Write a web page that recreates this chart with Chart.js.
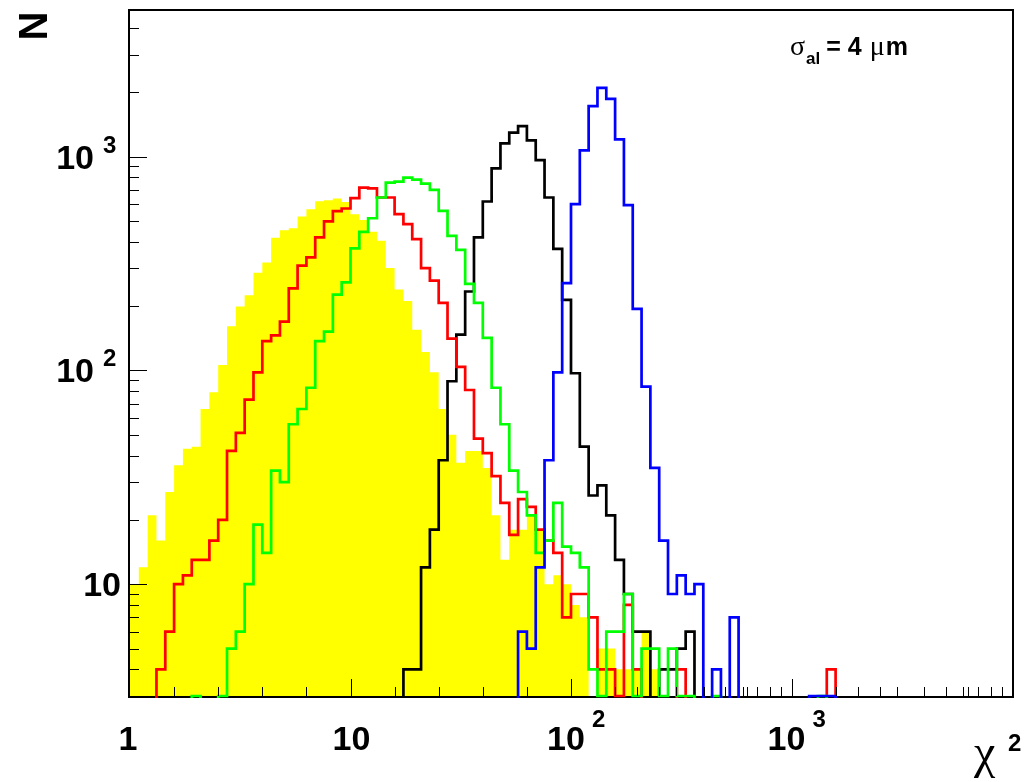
<!DOCTYPE html>
<html>
<head>
<meta charset="utf-8">
<script src="https://cdn.jsdelivr.net/npm/chart.js@4.4.1/dist/chart.umd.min.js"></script>
<style>html,body{margin:0;padding:0;background:#fff}canvas{display:block}</style>
</head>
<body>
<canvas id="c" width="1026" height="782"></canvas>
<script>
// ---- binning of the chi2 histograms: 25 log-bins per decade starting at chi2 = 1
const X_LOG_MIN = 0;
const BINS_PER_DECADE = 25;
const X_MIN = 1, X_MAX = 10000;
const Y_MIN = 3, Y_MAX = 4800;

// ---- bin contents (bins 0..80); 0 = empty / below axis
const yellowCounts = [
  10, 12, 21, 16, 27, 36, 43, 44, 66, 79,
  106, 161, 199, 225, 286, 320, 417, 453, 463, 525,
  568, 619, 626, 637, 614, 538, 505, 445, 404, 301,
  239, 211, 155, 122, 98, 66, 50, 37, 42, 42,
  35, 21, 13, 18, 18, 21, 18, 10, 11, 10,
  8, 7, 0, 5, 5, 4, 4, 4, 6, 4,
  0, 0, 0, 0, 0, 0, 0, 0, 0, 0,
  0, 0, 0, 0, 0, 0, 0, 0, 0, 0,
  0
];
const redCounts = [
  0, 0, 0, 4, 6, 10, 11, 13, 13, 16,
  20, 42, 51, 73, 98, 137, 146, 169, 242, 309,
  338, 419, 498, 556, 572, 639, 717, 710, 644, 644,
  538, 483, 411, 301, 263, 207, 141, 104, 81, 48,
  41, 32, 24, 17, 25, 23, 18, 16, 14, 7,
  9, 9, 7, 4, 4, 3, 8, 4, 0, 0,
  0, 0, 4, 0, 0, 0, 0, 0, 0, 0,
  0, 0, 0, 0, 0, 0, 0, 0, 0, 4,
  0
];
const greenCounts = [
  0, 0, 0, 0, 0, 0, 0, 3, 0, 0,
  3, 5, 6, 10, 19, 14, 34, 30, 56, 66,
  83, 137, 152, 226, 258, 372, 445, 515, 644, 756,
  764, 798, 780, 748, 699, 557, 426, 366, 254, 207,
  142, 83, 56, 34, 27, 21, 14, 16, 24, 15,
  14, 12, 4, 3, 6, 6, 9, 3, 5, 5,
  3, 5, 3, 3, 0, 0, 3, 0, 0, 0,
  0, 0, 0, 0, 0, 0, 0, 0, 3, 0,
  0
];
const blackCounts = [
  0, 0, 0, 0, 0, 0, 0, 0, 0, 0,
  0, 0, 0, 0, 0, 0, 0, 0, 0, 0,
  0, 0, 0, 0, 0, 0, 0, 0, 0, 0,
  0, 4, 4, 12, 18, 38, 89, 147, 234, 419,
  617, 881, 1153, 1294, 1389, 1191, 964, 644, 370, 214,
  97, 44, 26, 29, 21, 13, 9, 6, 6, 0,
  4, 4, 5, 6, 0, 0, 0, 0, 0, 0,
  0, 0, 0, 0, 0, 0, 0, 0, 0, 0,
  0
];
const blueCounts = [
  0, 0, 0, 0, 0, 0, 0, 0, 0, 0,
  0, 0, 0, 0, 0, 0, 0, 0, 0, 0,
  0, 0, 0, 0, 0, 0, 0, 0, 0, 0,
  0, 0, 0, 0, 0, 0, 0, 0, 0, 0,
  0, 0, 0, 0, 6, 5, 12, 38, 98, 256,
  599, 1070, 1722, 2098, 1864, 1204, 593, 194, 84, 35,
  16, 9, 11, 9, 10, 0, 4, 0, 7, 0,
  0, 0, 0, 0, 0, 0, 0, 3, 3, 3,
  0
];

// ---- axis ticks and labels
const xTickValues = [1, 10, 100, 1000];
const xTickLabels = [['1', ''], ['10', ''], ['10', '2'], ['10', '3']];
const yTickValues = [10, 100, 1000];
const yTickLabels = [['10', ''], ['10', '2'], ['10', '3']];
const xMajorTicks = [10, 100, 1000];
const xMinorTicks = [1.585, 2.512, 3.981, 6.31, 15.85, 25.12, 39.81, 63.1,
  158.5, 251.2, 398.1, 631, 1585, 2512, 3981, 6310,
  200, 300, 400, 500, 600, 700, 800, 900,
  2000, 3000, 4000, 5000, 6000, 7000, 8000, 9000];
const yMajorTicks = [10, 100, 1000];
const yMinorTicks = [4, 5, 6, 7, 8, 9, 20, 30, 40, 50, 60, 70, 80, 90,
  200, 300, 400, 500, 600, 700, 800, 900, 2000, 3000, 4000];

const yTitle = 'N';
const xTitle = ['\u03C7', '2'];
const note = {sym: '\u03C3', sub: 'al', rest: '= 4', mu: '\u03BC', unit: 'm'};

const EMPTY_LEVEL = 0.5; // empty bins sit below the axis minimum

function edge(i) { return Math.pow(10, X_LOG_MIN + i / BINS_PER_DECADE); }
function histPoints(values) {
  const pts = values.map((v, i) => ({x: edge(i), y: v > 0 ? v : EMPTY_LEVEL}));
  pts.push({x: edge(values.length), y: pts[pts.length - 1].y});
  return pts;
}

const SANS = "'Liberation Sans', Arial, Helvetica, sans-serif";
const SERIF = "'Liberation Serif', 'Times New Roman', serif";
const lineClip = {left: 0, top: 0, right: 0, bottom: 2};

function lineSet(label, values, color, order) {
  return {label, data: histPoints(values), borderColor: color, borderWidth: 2.7,
    stepped: true, fill: false, pointRadius: 0, order, clip: lineClip};
}

const framePlugin = {
  id: 'rootFrame',
  beforeDatasetsDraw(chart) {
    const ctx = chart.ctx, a = chart.chartArea;
    ctx.save();
    ctx.strokeStyle = '#000';
    ctx.lineWidth = 2;
    ctx.beginPath();
    ctx.moveTo(a.left - 1, a.bottom + 1); ctx.lineTo(a.right + 1, a.bottom + 1);
    ctx.stroke();
    ctx.restore();
  },
  afterDatasetsDraw(chart) {
    const ctx = chart.ctx, a = chart.chartArea;
    const xs = chart.scales.x, ys = chart.scales.y;
    ctx.save();
    ctx.strokeStyle = '#000';
    ctx.lineWidth = 2;
    ctx.beginPath();
    ctx.moveTo(a.left - 1, a.bottom + 2); ctx.lineTo(a.left - 1, a.top - 1);
    ctx.lineTo(a.right + 1, a.top - 1); ctx.lineTo(a.right + 1, a.bottom + 2);
    ctx.stroke();
    ctx.lineWidth = 1;
    ctx.beginPath();
    const xt = (v, len) => { const p = Math.round(xs.getPixelForValue(v)) + 0.5; ctx.moveTo(p, a.bottom); ctx.lineTo(p, a.bottom - len); };
    const yt = (v, len) => { const p = Math.round(ys.getPixelForValue(v)) + 0.5; ctx.moveTo(a.left, p); ctx.lineTo(a.left + len, p); };
    xMinorTicks.forEach(v => xt(v, 9));
    xMajorTicks.forEach(v => xt(v, 17));
    yMinorTicks.forEach(v => yt(v, 9));
    yMajorTicks.forEach(v => yt(v, 17));
    ctx.stroke();
    ctx.restore();
  },
  afterDraw(chart) {
    const ctx = chart.ctx;
    const xs = chart.scales.x, ys = chart.scales.y;
    ctx.save();
    ctx.fillStyle = '#000';
    const big = 'bold 34px ' + SANS, small = 'bold 24px ' + SANS;
    // y labels
    yTickValues.forEach((v, i) => {
      const p = ys.getPixelForValue(v);
      const [b, e] = yTickLabels[i];
      ctx.textBaseline = 'alphabetic';
      if (!e) {
        ctx.font = big; ctx.textAlign = 'right'; ctx.fillText(b, 121, p + 12);
      } else {
        ctx.font = big; ctx.textAlign = 'right'; ctx.fillText(b, 94, p + 12);
        ctx.font = small; ctx.textAlign = 'left'; ctx.fillText(e, 103, p - 4);
      }
    });
    // x labels
    xTickValues.forEach((v, i) => {
      const p = xs.getPixelForValue(v);
      const [b, e] = xTickLabels[i];
      ctx.textBaseline = 'alphabetic';
      if (!e) {
        ctx.font = big; ctx.textAlign = 'center'; ctx.fillText(b, p + (v === 1 ? -2 : 1), 750);
      } else {
        ctx.font = big; ctx.textAlign = 'center'; ctx.fillText(b, p - 5, 750);
        const w = ctx.measureText(b).width;
        ctx.font = small; ctx.textAlign = 'left'; ctx.fillText(e, p - 5 + w / 2 + 7, 727);
      }
    });
    // x title chi^2
    ctx.textAlign = 'left';
    ctx.font = '48px ' + SERIF; ctx.fillText(xTitle[0], 974, 768);
    ctx.font = small; ctx.fillText(xTitle[1], 1008, 751);
    // y title N (rotated)
    ctx.save();
    ctx.translate(33, 26);
    ctx.rotate(-Math.PI / 2);
    ctx.font = 'bold 40px ' + SANS; ctx.textAlign = 'center'; ctx.textBaseline = 'alphabetic';
    ctx.fillText(yTitle, 0, 14);
    ctx.restore();
    // annotation sigma_al = 4 mum
    ctx.textAlign = 'left'; ctx.textBaseline = 'alphabetic';
    let x = 790;
    ctx.font = '28px ' + SERIF; ctx.fillText(note.sym, x, 55); x += ctx.measureText(note.sym).width + 1;
    ctx.font = 'bold 17px ' + SANS; ctx.fillText(note.sub, x, 64); x += ctx.measureText(note.sub).width + 6;
    ctx.font = 'bold 25px ' + SANS; ctx.fillText(note.rest, x, 55); x += ctx.measureText(note.rest).width + 8;
    ctx.font = '28px ' + SERIF; ctx.fillText(note.mu, x, 55); x += ctx.measureText(note.mu).width + 1;
    ctx.font = 'bold 25px ' + SANS; ctx.fillText(note.unit, x, 55);
    ctx.restore();
  }
};

new Chart(document.getElementById('c').getContext('2d'), {
  type: 'line',
  data: {
    datasets: [
      lineSet('blue', blueCounts, '#0000ff', 1),
      lineSet('green', greenCounts, '#00ff00', 2),
      lineSet('red', redCounts, '#ff0000', 3),
      lineSet('black', blackCounts, '#000000', 4),
      {label: 'yellow', data: histPoints(yellowCounts), borderColor: 'rgba(0,0,0,0)', borderWidth: 0,
        backgroundColor: '#ffff00', fill: 'start', stepped: true, pointRadius: 0, order: 5, clip: 0}
    ]
  },
  options: {
    responsive: false,
    animation: false,
    devicePixelRatio: 1,
    layout: {padding: {top: 11, right: 14, left: 0, bottom: 0}},
    plugins: {legend: {display: false}, tooltip: {enabled: false}, title: {display: false}},
    elements: {point: {radius: 0}, line: {tension: 0}},
    scales: {
      x: {type: 'logarithmic', min: X_MIN, max: X_MAX, bounds: 'data',
        grid: {display: false}, border: {display: false}, ticks: {display: false},
        afterFit: s => { s.height = 86; }},
      y: {type: 'logarithmic', min: Y_MIN, max: Y_MAX, bounds: 'data',
        grid: {display: false}, border: {display: false}, ticks: {display: false},
        afterFit: s => { s.width = 130; }}
    }
  },
  plugins: [framePlugin]
});
</script>
</body>
</html>
